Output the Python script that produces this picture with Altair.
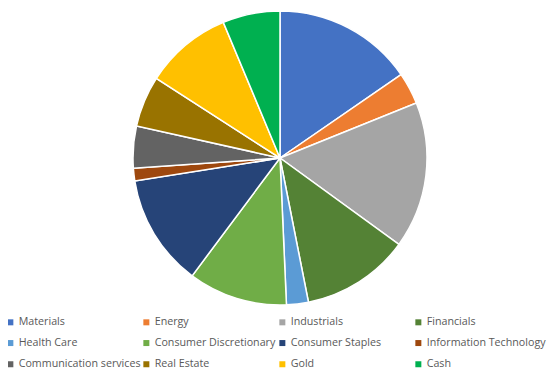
import altair as alt
import pandas as pd

sectors = ["Materials", "Energy", "Industrials", "Financials", "Health Care",
           "Consumer Discretionary", "Consumer Staples", "Information Technology",
           "Communication services", "Real Estate", "Gold", "Cash"]
weights = [15.4, 3.5, 16.1, 11.9, 2.4, 10.9, 12.3, 1.4, 4.6, 5.6, 9.6, 6.3]
colors = ["#4472C4", "#ED7D31", "#A5A5A5", "#548235", "#5B9BD5", "#70AD47",
          "#264478", "#9E480E", "#636363", "#997300", "#FFC000", "#00B050"]

df = pd.DataFrame({"sector": sectors, "weight": weights, "idx": list(range(len(sectors)))})

chart = alt.Chart(df).mark_arc(radius=147, stroke="white", strokeWidth=1.5).encode(
    theta=alt.Theta("weight:Q", stack=True),
    order=alt.Order("idx:Q"),
    color=alt.Color(
        "sector:N",
        sort=sectors,
        scale=alt.Scale(domain=sectors, range=colors),
        legend=alt.Legend(
            title=None,
            orient="none",
            legendX=-3,
            legendY=308.5,
            direction="horizontal",
            columns=4,
            gridAlign="all",
            columnPadding=-3.5,
            rowPadding=9.2,
            symbolType="square",
            symbolSize=36,
            symbolStrokeWidth=0,
            labelFont="Open Sans",
            labelFontSize=10.7,
            labelColor="#595959",
            labelOffset=3,
            labelLimit=200,
        ),
    ),
    x=alt.value(272),
    y=alt.value(150),
).properties(
    width=539,
    height=361,
    padding=0,
    autosize=alt.AutoSizeParams(type="none"),
).configure_view(stroke=None)

chart.save("out.html", embed_options={"renderer": "svg", "actions": False})
